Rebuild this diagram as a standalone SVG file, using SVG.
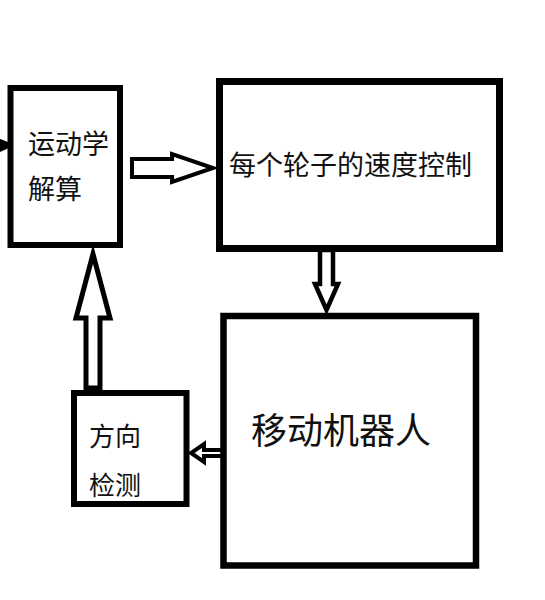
<svg xmlns="http://www.w3.org/2000/svg" width="545" height="600" viewBox="0 0 545 600">
<style>
.box{fill:#fff;stroke:#000}
.arr{fill:#fff;stroke:#000;stroke-linejoin:miter}
.t{font-family:"Noto Sans CJK SC","Noto Sans CJK JP",sans-serif;fill:#111}
</style>
<rect width="545" height="600" fill="#fff"/>
<g id="connectors">
<path d="M0,140 L13,145 L0,151 Z" fill="#000" stroke="#000" stroke-width="2"/>
<polygon class="arr" stroke-width="4" points="132,159 172,159 172,154 213,168 172,182 172,177 132,177"/>
<polygon class="arr" stroke-width="4.5" points="320,250 333,250 333,284 338,284 326.5,310 315,284 320,284"/>
<polygon class="arr" stroke-width="5" points="86,388 100,388 100,318 110,318 93,254 76,318 86,318"/>
<polygon class="arr" stroke-width="4" points="228,450 204,450 204,444 191,453 204,462 204,456 228,456"/>
<rect x="221" y="446" width="10" height="14" fill="#000"/>
</g>
<g id="node-kinematics">
<rect class="box" x="10.5" y="88" width="109.5" height="157" stroke-width="6"/>
<text class="t" x="28" y="154" font-size="27">运动学</text>
<text class="t" x="28" y="199" font-size="27">解算</text>
</g>
<g id="node-speed">
<rect class="box" x="219.5" y="81.5" width="280" height="167" stroke-width="7"/>
<text class="t" x="229" y="175" font-size="27">每个轮子的速度控制</text>
</g>
<g id="node-robot">
<rect class="box" x="223.5" y="316" width="252.5" height="249.5" stroke-width="6.5"/>
<text class="t" x="251" y="444" font-size="36">移动机器人</text>
</g>
<g id="node-direction">
<rect class="box" x="74" y="393" width="112.5" height="111" stroke-width="6"/>
<text class="t" x="89" y="446" font-size="26">方向</text>
<text class="t" x="89" y="495" font-size="26">检测</text>
</g>
</svg>
